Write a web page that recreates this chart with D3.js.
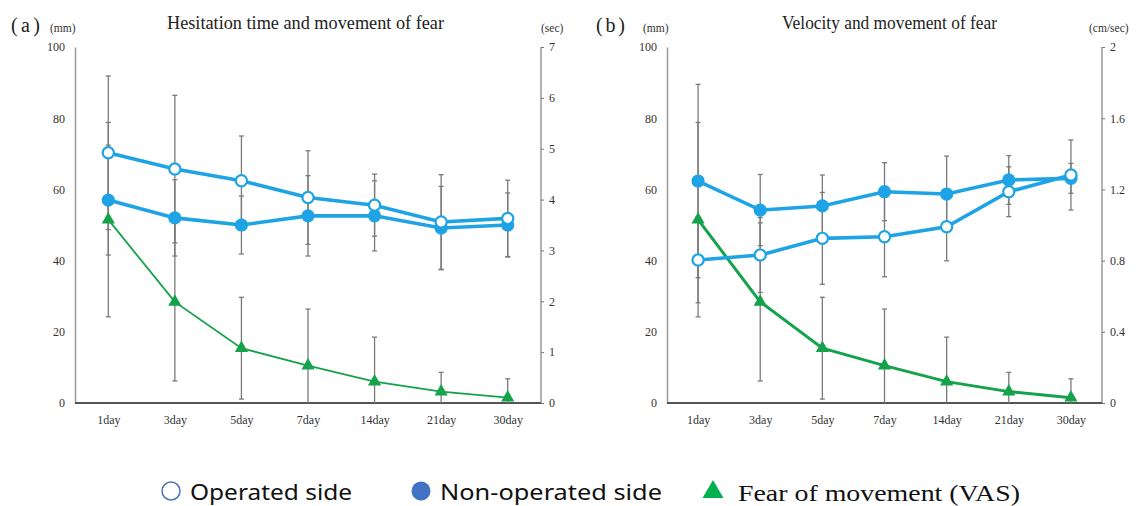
<!DOCTYPE html>
<html><head><meta charset="utf-8">
<script src="https://cdn.jsdelivr.net/npm/d3@7/dist/d3.min.js"></script>
<style>body{margin:0;background:#fff}svg{display:block}</style>
</head><body>
<svg id="c" width="1137" height="506"></svg>
<script>
// ---------- data ----------
const categories = ["1day","3day","5day","7day","14day","21day","30day"];
// Fear of movement (VAS, mm) – same in both panels
const vasMean = [51.5, 28.4, 15.4, 10.5, 6.0, 3.2, 1.5];
const vasSD   = [27.3, 22.2, 14.3, 15.9, 12.5, 5.4, 5.3];
// Panel (a) hesitation time (sec)
const hesOp     = [4.92, 4.60, 4.37, 4.04, 3.89, 3.56, 3.63];
const hesOpSD   = [1.51, 1.45, 0.88, 0.92, 0.61, 0.93, 0.75];
const hesNon    = [3.99, 3.64, 3.50, 3.68, 3.68, 3.44, 3.50];
const hesNonSD  = [1.08, 0.75, 0.57, 0.79, 0.69, 0.82, 0.63];
// Panel (b) velocity (cm/sec)
const velOp     = [0.803, 0.831, 0.925, 0.934, 0.990, 1.187, 1.281];
const velOpSD   = [0.24, 0.21, 0.258, 0.225, 0.191, 0.140, 0.197];
const velNon    = [1.247, 1.084, 1.107, 1.187, 1.174, 1.253, 1.262];
const velNonSD  = [0.543, 0.20, 0.174, 0.163, 0.213, 0.137, 0.084];
const leftTicks = [0, 20, 40, 60, 80, 100];
const hesTicks = [0,1,2,3,4,5,6,7];
const velTicks = [0,0.4,0.8,1.2,1.6,2];
const legendLabels = ["Operated side","Non-operated side","Fear of movement (VAS)"];

// ---------- style ----------
const BLUE = "#1ea4e4", GREEN = "#14a24a", ERR = "#7a7a7a";
const svg = d3.select("#c");
const serif = "'Liberation Serif','DejaVu Serif',serif";

const panels = [
  {x0:75, x1:541, tag:"(a)", tagX:11, unitL:"(mm)", unitLX:50, unitR:"(sec)", unitRX:541,
   title:"Hesitation time and movement of fear", titleX:167, titleW:277,
   rMax:7, rTicks:hesTicks, rFmt:d3.format("d"), op:hesOp, opSD:hesOpSD, non:hesNon, nonSD:hesNonSD, vasW:1.8},
  {x0:667, x1:1102, tag:"(b)", tagX:596, unitL:"(mm)", unitLX:643, unitR:"(cm/sec)", unitRX:1089,
   title:"Velocity and movement of fear", titleX:782, titleW:215,
   rMax:2, rTicks:velTicks, rFmt:d => d===0||d===2 ? d3.format("d")(d) : d3.format(".1f")(d),
   op:velOp, opSD:velOpSD, non:velNon, nonSD:velNonSD, vasW:3}
];
const yTop = 47, yBot = 403;

panels.forEach(p => {
  const g = svg.append("g");
  const x = d3.scalePoint().domain(categories).range([p.x0, p.x1]).padding(0.5);
  const yL = d3.scaleLinear().domain([0,100]).range([yBot, yTop]);
  const yR = d3.scaleLinear().domain([0,p.rMax]).range([yBot, yTop]);

  // titles & units
  g.append("text").attr("x", p.tagX).attr("y", 32).attr("font-family", serif).attr("font-size", 20)
    .attr("textLength", 29).attr("lengthAdjust","spacing").attr("fill","#222").text(p.tag);
  g.append("text").attr("x", p.unitLX).attr("y", 32).attr("font-family", serif).attr("font-size", 11.5).attr("fill","#333").text(p.unitL);
  g.append("text").attr("x", p.unitRX).attr("y", 32).attr("font-family", serif).attr("font-size", 11.5).attr("fill","#333").text(p.unitR);
  g.append("text").attr("x", p.titleX).attr("y", 29).attr("font-family", serif).attr("font-size", 19)
    .attr("textLength", p.titleW).attr("lengthAdjust","spacingAndGlyphs").attr("fill","#222").text(p.title);

  // left axis
  const aL = g.append("g").attr("transform", `translate(${p.x0},0)`)
    .call(d3.axisLeft(yL).tickValues(leftTicks).tickSize(0).tickPadding(10));
  aL.select(".domain").attr("stroke","#9a9a9a").attr("stroke-width",1.5);
  aL.selectAll("text").attr("font-family", serif).attr("font-size", 12).attr("fill","#333");
  // right axis
  const aR = g.append("g").attr("transform", `translate(${p.x1},0)`)
    .call(d3.axisRight(yR).tickValues(p.rTicks).tickFormat(p.rFmt).tickSize(3).tickPadding(5));
  aR.select(".domain").attr("stroke","#9a9a9a").attr("stroke-width",1.5).attr("d", `M0,${yTop}V${yBot}`);
  aR.selectAll(".tick line").attr("stroke","#777");
  aR.selectAll("text").attr("font-family", serif).attr("font-size", 12).attr("fill","#333");
  // bottom axis
  const aB = g.append("g").attr("transform", `translate(0,${yBot})`)
    .call(d3.axisBottom(x).tickSize(0).tickPadding(12));
  aB.select(".domain").attr("stroke","#555").attr("stroke-width",2).attr("d", `M${p.x0},0H${p.x1}`);
  aB.selectAll("text").attr("font-family", serif).attr("font-size", 12).attr("fill","#333");

  const series = [
    {m: vasMean, s: vasSD, y: yL},
    {m: p.op, s: p.opSD, y: yR},
    {m: p.non, s: p.nonSD, y: yR}
  ];
  // error bars
  const eg = g.append("g").attr("stroke", ERR).attr("stroke-width", 1.3).attr("fill","none");
  series.forEach(sr => {
    categories.forEach((c,i) => {
      const lo = Math.max(0, sr.m[i]-sr.s[i]), hi = sr.m[i]+sr.s[i];
      const cx = x(c);
      eg.append("line").attr("x1",cx).attr("x2",cx).attr("y1",sr.y(lo)).attr("y2",sr.y(hi));
      eg.append("line").attr("x1",cx-2.5).attr("x2",cx+2.5).attr("y1",sr.y(hi)).attr("y2",sr.y(hi));
      if (sr.m[i]-sr.s[i] > 0)
        eg.append("line").attr("x1",cx-2.5).attr("x2",cx+2.5).attr("y1",sr.y(lo)).attr("y2",sr.y(lo));
    });
  });

  // lines
  const line = (yS) => d3.line().x((d,i)=>x(categories[i])).y(d=>yS(d));
  g.append("path").datum(vasMean).attr("d", line(yL)).attr("fill","none").attr("stroke",GREEN).attr("stroke-width",p.vasW);
  g.append("path").datum(p.non).attr("d", line(yR)).attr("fill","none").attr("stroke",BLUE).attr("stroke-width",3.6);
  g.append("path").datum(p.op).attr("d", line(yR)).attr("fill","none").attr("stroke",BLUE).attr("stroke-width",3.6);

  // markers
  g.selectAll(".tri").data(vasMean).join("path")
    .attr("transform",(d,i)=>`translate(${x(categories[i])},${yL(d)})`)
    .attr("d", d3.symbol(d3.symbolTriangle, 75)).attr("fill", GREEN);
  g.selectAll(".non").data(p.non).join("circle")
    .attr("cx",(d,i)=>x(categories[i])).attr("cy",d=>yR(d)).attr("r",6.6).attr("fill",BLUE);
  g.selectAll(".op").data(p.op).join("circle")
    .attr("cx",(d,i)=>x(categories[i])).attr("cy",d=>yR(d)).attr("r",5.6)
    .attr("fill","#fff").attr("stroke",BLUE).attr("stroke-width",2.2);
});

// ---------- legend ----------
const lg = svg.append("g");
lg.append("circle").attr("cx",171).attr("cy",491).attr("r",9).attr("fill","#fff").attr("stroke","#4a74c0").attr("stroke-width",1.5);
lg.append("text").attr("x",190).attr("y",500).attr("font-family","'Noto Sans',sans-serif").attr("font-size",22)
  .attr("textLength",162).attr("lengthAdjust","spacingAndGlyphs").attr("fill","#111").text(legendLabels[0]);
lg.append("circle").attr("cx",421).attr("cy",491).attr("r",9.5).attr("fill","#4472c4");
lg.append("text").attr("x",440).attr("y",500).attr("font-family","'Noto Sans',sans-serif").attr("font-size",22)
  .attr("textLength",222).attr("lengthAdjust","spacingAndGlyphs").attr("fill","#111").text(legendLabels[1]);
lg.append("path").attr("transform","translate(713,492)").attr("d", d3.symbol(d3.symbolTriangle, 190)).attr("fill","#00b050");
lg.append("text").attr("x",738).attr("y",501).attr("font-family",serif).attr("font-size",23)
  .attr("textLength",282).attr("lengthAdjust","spacingAndGlyphs").attr("fill","#111").text(legendLabels[2]);
</script>
</body></html>
